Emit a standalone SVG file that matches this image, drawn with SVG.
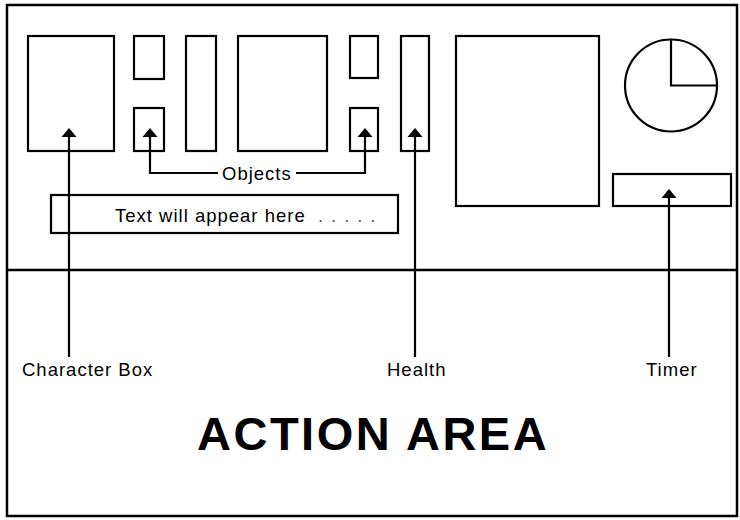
<svg xmlns="http://www.w3.org/2000/svg" width="740" height="520" viewBox="0 0 740 520">
<style>
.box{fill:#fff;stroke:#000;stroke-width:2.2}
.frame{fill:none;stroke:#000;stroke-width:2.5}
.con{fill:none;stroke:#000;stroke-width:2.2}
.head{fill:#000;stroke:none}
.lbl{font-family:"Liberation Sans",Arial,sans-serif;font-size:18.5px;letter-spacing:1px;fill:#000}
.dots{fill:#555;letter-spacing:1.4px}
.big{font-family:"Liberation Sans",Arial,sans-serif;font-size:47px;font-weight:bold;letter-spacing:2.5px;fill:#000}
</style>
<defs>
<polygon id="ah" points="0,0 7.5,9 -7.5,9"/>
</defs>
<rect width="740" height="520" fill="#fff"/>
<g id="frame">
<rect class="frame" x="7" y="5" width="730" height="511"/>
<line class="frame" x1="7" y1="270" x2="737" y2="270"/>
</g>
<g id="character-box"><rect class="box" x="28" y="36" width="86" height="115"/></g>
<g id="object-1"><rect class="box" x="134" y="36" width="30" height="43"/></g>
<g id="object-2"><rect class="box" x="134" y="108" width="30" height="43"/></g>
<g id="bar-1"><rect class="box" x="186" y="36" width="30" height="115"/></g>
<g id="middle-box"><rect class="box" x="238" y="36" width="89" height="115"/></g>
<g id="object-3"><rect class="box" x="350" y="36" width="28" height="42"/></g>
<g id="object-4"><rect class="box" x="350" y="108" width="28" height="43"/></g>
<g id="health-bar"><rect class="box" x="401" y="36" width="28" height="115"/></g>
<g id="large-box"><rect class="box" x="456" y="36" width="143" height="170"/></g>
<g id="clock">
<circle class="box" cx="671" cy="85.5" r="46"/>
<polyline class="con" points="671,39.5 671,85.5 717,85.5"/>
</g>
<g id="timer-box"><rect class="box" x="613" y="174" width="118" height="32"/></g>
<g id="text-box">
<rect class="box" x="51" y="195" width="347" height="38"/>
<text class="lbl" x="115" y="222">Text will appear here <tspan class="dots" x="318">. . . . .</tspan></text>
</g>
<g id="connectors">
<line class="con" x1="69" y1="135" x2="69" y2="357"/>
<use href="#ah" class="head" x="69" y="128"/>
<polyline class="con" points="150,135 150,173 218,173"/>
<use href="#ah" class="head" x="150" y="128"/>
<polyline class="con" points="296,173 365,173 365,135"/>
<use href="#ah" class="head" x="365" y="128"/>
<line class="con" x1="415" y1="135" x2="415" y2="357"/>
<use href="#ah" class="head" x="415" y="128"/>
<line class="con" x1="669" y1="196" x2="669" y2="357"/>
<use href="#ah" class="head" x="669" y="189"/>
</g>
<g id="labels">
<text class="lbl" x="222" y="180">Objects</text>
<text class="lbl" x="22" y="376">Character Box</text>
<text class="lbl" x="387" y="376">Health</text>
<text class="lbl" x="646" y="376">Timer</text>
<text class="big" x="197" y="450">ACTION AREA</text>
</g>
</svg>
